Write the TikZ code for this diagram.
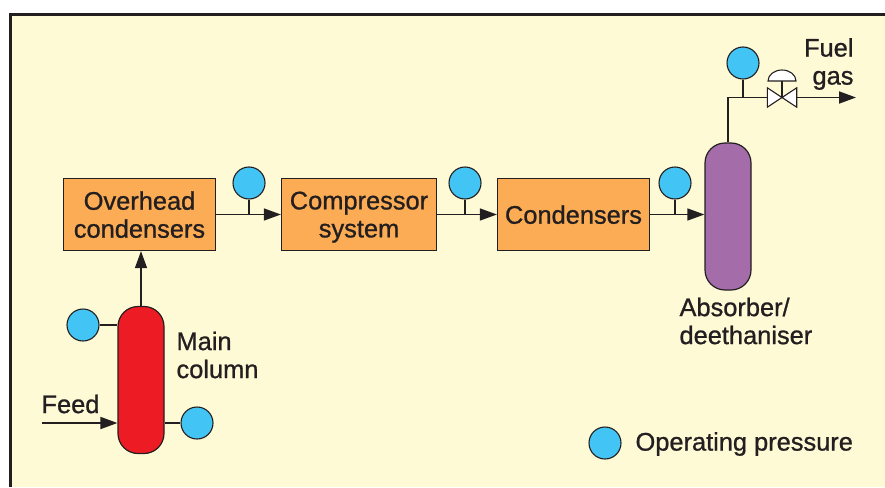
\documentclass[tikz,border=0pt]{standalone}
\usepackage{fontspec}
\setmainfont{Liberation Sans}[FakeBold=0.9]
\usetikzlibrary{arrows.meta, positioning, calc}
\definecolor{panelcream}{RGB}{255, 250, 214}
\definecolor{boxorange}{RGB}{251, 172, 84}
\definecolor{gaugeblue}{RGB}{66, 197, 245}
\definecolor{mainred}{RGB}{237, 28, 36}
\definecolor{absviolet}{RGB}{164, 108, 168}
\definecolor{inkdark}{RGB}{35, 31, 32}
\tikzset{
  every node/.style={text=inkdark, font=\fontsize{25.4}{28}\selectfont},
  unitbox/.style={draw=inkdark, fill=boxorange, line width=1.2pt, minimum height=72pt, inner sep=0pt, align=center, text depth=0pt},
  vessel/.style={draw=inkdark, line width=1.2pt, minimum width=46pt, minimum height=147pt, inner sep=0pt, rounded corners=20pt},
  gauge/.style={circle, draw=inkdark, fill=gaugeblue, line width=1.1pt, minimum size=32pt, inner sep=0pt},
  flow/.style={draw=inkdark, line width=1.3pt, -{Triangle[length=17pt,width=12pt]}},
  bigflow/.style={flow, line width=1.8pt},
  stub/.style={draw=inkdark, line width=1.2pt},
  valvepart/.style={draw=inkdark, fill=white, line width=1.1pt, line join=miter}
}
\begin{document}
\begin{tikzpicture}[x=1pt, y=-1pt]
  \useasboundingbox (0,0) rectangle (885,487);

  % Panel
  \fill[panelcream] (11,15) rectangle (885,487);
  \draw[inkdark, line width=2.6pt] (10.5,487) -- (10.5,14.5) -- (885,14.5);

  % Units
  \node[unitbox, minimum width=152pt] (overhead) at (139.5,214.5) {Overhead\\condensers};
  \node[unitbox, minimum width=155pt] (compressor) at (359,214.5) {Compressor\\system};
  \node[unitbox, minimum width=152pt] (condensers) at (573.5,214.5) {Condensers};

  % Vessels
  \node[vessel, fill=mainred] (maincol) at (141,380) {};
  \node[vessel, fill=absviolet] (absorber) at (728,216.5) {};

  % Gauges
  \node[gauge] (gaugeA) at (249,183) {};
  \node[gauge] (gaugeB) at (465,183) {};
  \node[gauge] (gaugeC) at (675,183) {};
  \node[gauge] (gaugeD) at (743,63) {};
  \node[gauge] (gaugeE) at (83,325) {};
  \node[gauge] (gaugeF) at (197,423) {};
  \node[gauge] (gaugeKey) at (605,443) {};

  % Valve
  \node[minimum width=29pt, minimum height=19pt, inner sep=0pt] (valve) at (782,97.5) {};
  \draw[valvepart] (valve.center) -- (valve.north west) -- (valve.south west) -- cycle;
  \draw[valvepart] (valve.center) -- (valve.north east) -- (valve.south east) -- cycle;
  \coordinate (actuator) at (782,81);
  \draw[stub] (actuator) -- (valve.center);
  \draw[valvepart] ($(actuator)+(-14,0)$) arc[start angle=180, end angle=0, x radius=14pt, y radius=11pt] -- cycle;

  % Flows
  \coordinate (feedin) at (42,423);
  \coordinate (fuelout) at (856,97.5);
  \coordinate (bend) at (absorber.north |- valve.west);
  \draw[flow] (maincol.north) -- (maincol.north |- overhead.south);
  \draw[flow] (overhead.east) -- (compressor.west);
  \draw[flow] (compressor.east) -- (condensers.west);
  \draw[flow] (condensers.east) -- (absorber.west |- condensers.east);
  \draw[bigflow] (feedin) -- (feedin -| maincol.west);
  \draw[stub] (absorber.north) -- (bend) -- (valve.west);
  \draw[bigflow] (valve.east) -- (fuelout);

  % Gauge stubs
  \draw[stub] (gaugeA.south) -- (gaugeA.south |- overhead.east);
  \draw[stub] (gaugeB.south) -- (gaugeB.south |- compressor.east);
  \draw[stub] (gaugeC.south) -- (gaugeC.south |- condensers.east);
  \draw[stub] (gaugeD.south) -- (gaugeD.south |- valve.west);
  \draw[stub] (gaugeE.east) -- (gaugeE.east -| maincol.west);
  \draw[stub] (gaugeF.west) -- (gaugeF.west -| maincol.east);

  % Labels
  \node[anchor=west, align=left] (mainlabel) at (173,355) {Main\\column};
  \node[anchor=west, align=left] (abslabel) at (676,321) {Absorber/\\deethaniser};
  \node[anchor=east, align=right] (fuellabel) at (857,64) {Fuel\\gas};
  \node[anchor=west] (feedlabel) at (38,404) {Feed};
  \node[anchor=west] (keylabel) at (632,444) {Operating pressure};
\end{tikzpicture}
\end{document}
